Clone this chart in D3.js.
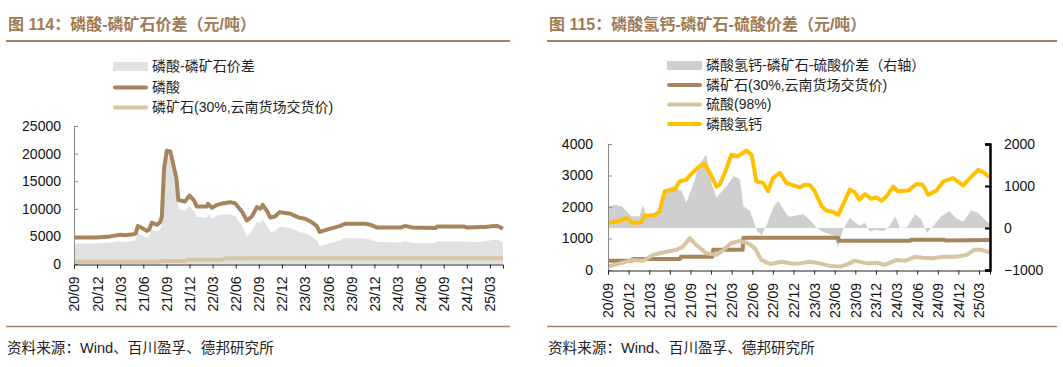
<!DOCTYPE html>
<html><head><meta charset="utf-8">
<script src="https://cdn.jsdelivr.net/npm/d3@7/dist/d3.min.js"></script>
<style>
body{margin:0;background:#fff;}
svg text{font-family:"Liberation Sans",Arial,"Noto Sans CJK SC",sans-serif;}
</style></head><body>
<svg id="c" width="1063" height="367"></svg>
<script>
// time values are months since 2020-09-01
const tickMonths = [0,3,6,9,12,15,18,21,24,27,30,33,36,39,42,45,48,51,54];
const tickLabels = ["20/09","20/12","21/03","21/06","21/09","21/12","22/03","22/06","22/09","22/12","23/03","23/06","23/09","23/12","24/03","24/06","24/09","24/12","25/03"];

// ---- Figure 114 ----
const acid = [[0,4800],[2.95,4800],[4.7,5000],[6.0,5300],[6.6,5200],[7.7,5400],[8.0,5500],[8.3,6900],[8.7,6600],[9.45,6000],[9.75,6200],[10.1,7500],[10.8,7100],[11.2,7600],[11.4,8600],[11.7,17400],[12.05,20500],[12.5,20400],[13.3,15500],[13.55,11600],[14.4,11300],[15.0,12400],[15.6,11500],[15.95,10400],[17.25,10400],[17.4,10900],[17.9,10200],[18.55,10700],[19.4,11000],[20.3,11200],[20.9,11000],[21.8,9500],[22.45,7900],[23.1,8600],[23.75,10300],[24.2,10000],[24.5,10700],[25.05,9600],[25.5,8400],[26.1,8600],[26.7,9400],[27.65,9200],[28.1,9100],[29.2,8400],[30.0,8200],[30.7,7700],[31.5,6900],[31.9,5800],[32.5,6100],[33.3,6400],[34.6,6900],[35.2,7300],[37.8,7300],[38.5,7100],[39.4,6600],[42.4,6600],[43.0,6900],[43.9,6600],[46.9,6500],[47.2,6800],[50.6,6800],[51.1,6600],[52.8,6700],[53.4,6700],[54.5,6900],[55.0,6900],[55.7,6400]];
const spreadAcid = [[0,3700],[2.95,3700],[4.7,3900],[6.0,4100],[6.6,4000],[7.7,4200],[8.0,4300],[8.3,5500],[8.7,5200],[9.45,4800],[9.75,5000],[10.1,6200],[10.8,5900],[11.2,6300],[11.4,7300],[11.7,16200],[12.05,19400],[12.5,19000],[13.3,14000],[13.55,10000],[14.4,9600],[15.0,10600],[15.6,9500],[15.95,8500],[17.25,8400],[17.4,9000],[17.9,8200],[18.55,8800],[19.4,9000],[20.3,9000],[20.9,8700],[21.8,7000],[22.45,5000],[23.1,6000],[23.75,7600],[24.2,7400],[24.5,8000],[25.05,7000],[25.5,5800],[26.1,6000],[26.7,6800],[27.65,6600],[28.1,6500],[29.2,5800],[30.0,5600],[30.7,5100],[31.5,4300],[31.9,3200],[32.5,3500],[33.3,3800],[34.6,4300],[35.2,4700],[37.8,4600],[38.5,4400],[39.4,4000],[42.4,3900],[43.0,4100],[43.9,3800],[46.9,3800],[47.2,4100],[50.6,4100],[51.1,4000],[52.8,4000],[53.4,4100],[54.5,4400],[55.0,4400],[55.7,3900]];
const rockL = [[0,420],[11.2,420],[11.3,550],[14.6,550],[14.7,750],[19.4,750],[19.5,1000],[24,1030],[55.7,1030]];

// ---- Figure 115 ----
const dcp = [[0,1490],[1.7,1560],[2.7,1650],[3.65,1490],[4.85,1520],[5.3,1720],[6.8,1750],[7.5,1860],[8.25,2500],[9.7,2550],[10.4,2810],[11.4,2870],[12.1,3050],[13.3,3290],[14.1,3370],[14.7,3130],[15.8,2650],[16.25,2710],[17,3080],[17.95,3660],[18.9,3610],[20.15,3790],[20.9,3660],[21.6,2810],[22.6,2760],[23.3,2500],[24,2920],[25,3080],[26,2760],[27.9,2620],[28.6,2710],[29.4,2690],[30.1,2500],[31.1,2020],[31.8,1880],[32.8,1840],[33.5,1750],[34.2,2070],[35.2,2550],[35.9,2470],[36.6,2230],[37.4,2410],[38.3,2260],[39.1,2300],[39.8,2200],[40.5,2330],[41.5,2650],[42.2,2500],[43.7,2520],[44.9,2730],[45.8,2710],[46.6,2390],[47.8,2520],[48.8,2810],[50.2,2920],[51.7,2690],[52.9,2970],[53.9,3180],[54.8,3080],[55.5,2940]];
const rockR = [[0,290],[3.5,290],[3.6,350],[10.5,350],[10.6,420],[15.2,420],[15.3,640],[19.6,640],[19.7,1020],[33.5,1020],[33.6,930],[44,930],[44.1,960],[49,960],[49.1,940],[55.5,950]];
const sulfuric = [[0,110],[1.7,210],[3.65,320],[5.1,290],[6.55,480],[8.5,580],[9.95,640],[10.9,740],[11.9,1010],[12.8,800],[14.3,530],[15.8,480],[16.8,640],[17.9,850],[19.2,920],[20.4,850],[21.4,690],[22.3,320],[23.6,190],[25.3,260],[27,200],[27.9,210],[29.4,260],[30.8,210],[32.3,130],[33.8,110],[34.8,180],[35.9,290],[37.8,210],[39.1,230],[40.3,160],[42,320],[43.2,290],[44.7,420],[45.8,390],[47.3,370],[48.8,420],[50.7,420],[52.2,480],[53.3,640],[54.3,640],[55.5,560]];
const spreadDcp = [[0,520],[1,550],[2,520],[2.7,400],[3.4,280],[4.6,280],[5.1,550],[5.5,320],[6.8,280],[7.7,400],[8.5,920],[9.5,1000],[10.7,880],[11.4,600],[12.4,1040],[13.3,1520],[14.3,1750],[15.1,1040],[15.8,720],[16.6,880],[17.3,1000],[18.3,1240],[19.2,1160],[19.7,520],[20.7,400],[21.7,-80],[22.4,-170],[23.1,70],[24.1,510],[24.8,640],[26,320],[26.4,270],[28.4,330],[29.4,190],[30.4,0],[31.4,-100],[32.8,-170],[33.5,-450],[34.2,-50],[35.2,250],[35.9,140],[36.6,60],[37.4,120],[38.1,-80],[39.1,-50],[40.1,-80],[41.1,70],[41.8,280],[42.5,0],[43.5,20],[44.7,330],[45.6,200],[46.4,-120],[47.3,40],[48.5,280],[49.7,400],[50.7,230],[51.7,150],[52.9,430],[53.9,350],[54.8,200],[55.5,110]];

const leftTicks = [0,5000,10000,15000,20000,25000];
const rightLTicks = [0,1000,2000,3000,4000];
const rightRTicks = [-1000,0,1000,2000];

const C = {title:"#a07a55", rule:"#a58361", brown:"#a8845d", tan:"#d8c59f", yellow:"#ffc000", grayL:"#e1e1e1", grayR:"#d0cfd0"};

const svg = d3.select("#c");

function frame(x0, x1, title){
  svg.append("text").attr("x",x0).attr("y",30).attr("font-size",16).attr("font-weight","bold")
    .attr("fill",C.title).text(title);
  svg.append("line").attr("x1",x0-2).attr("x2",x1).attr("y1",41).attr("y2",41).attr("stroke",C.rule).attr("stroke-width",2);
  svg.append("line").attr("x1",x0-2).attr("x2",x1).attr("y1",326.5).attr("y2",326.5).attr("stroke",C.rule).attr("stroke-width",1.5);
  svg.append("text").attr("x",x0-1).attr("y",353).attr("font-size",14.6).attr("fill","#222").text("资料来源：Wind、百川盈孚、德邦研究所");
}
frame(8, 510, "图 114：磷酸-磷矿石价差（元/吨）");
frame(549, 1057, "图 115：磷酸氢钙-磷矿石-硫酸价差（元/吨）");

function legend(x, ys, items){
  items.forEach((it,i)=>{
    const y = ys[i];
    if(it.type==="rect"){
      svg.append("rect").attr("x",x).attr("y",y-4.5).attr("width",35).attr("height",9).attr("fill",it.color);
    } else {
      svg.append("line").attr("x1",x+2).attr("x2",x+33).attr("y1",y).attr("y2",y).attr("stroke",it.color).attr("stroke-width",4).attr("stroke-linecap","round");
    }
    svg.append("text").attr("x",x+39).attr("y",y).attr("dy","0.35em").attr("font-size",14).attr("fill","#222").text(it.label);
  });
}
legend(113,[66.5,87.5,107.5],[
  {type:"rect",color:C.grayL,label:"磷酸-磷矿石价差"},
  {type:"line",color:C.brown,label:"磷酸"},
  {type:"line",color:C.tan,label:"磷矿石(30%,云南货场交货价)"}]);
legend(667,[65.5,85,104.5,124],[
  {type:"rect",color:C.grayR,label:"磷酸氢钙-磷矿石-硫酸价差（右轴）"},
  {type:"line",color:C.brown,label:"磷矿石(30%,云南货场交货价)"},
  {type:"line",color:C.tan,label:"硫酸(98%)"},
  {type:"line",color:C.yellow,label:"磷酸氢钙"}]);

function styleAxis(g, color, width){
  g.select(".domain").attr("stroke",color).attr("stroke-width",width);
  g.selectAll(".tick line").attr("stroke",color);
  g.selectAll(".tick text").attr("font-size",14).attr("fill","#111")
   .attr("font-family","'Liberation Sans',Arial,sans-serif");
}
function xAxis(g, scale, y, labelOff){
  const a = g.append("g").attr("transform",`translate(0,${y})`)
    .call(d3.axisBottom(scale).tickValues(tickMonths).tickFormat((d,i)=>tickLabels[i]).tickSizeOuter(0).tickSize(4));
  styleAxis(a,"#222",1);
  a.selectAll(".tick text").attr("transform","rotate(-90)").attr("text-anchor","end")
    .attr("x",-labelOff).attr("y",0).attr("dy","0.35em");
  return a;
}

// ---- Left chart ----
{
  const xL = d3.scaleLinear().domain([0,55.7]).range([74,503]);
  const yL = d3.scaleLinear().domain([0,25000]).range([264,126]);
  const g = svg.append("g");
  g.append("path").datum(spreadAcid).attr("fill",C.grayL)
    .attr("d",d3.area().x(d=>xL(d[0])).y0(yL(0)).y1(d=>yL(d[1])));
  const line = d3.line().x(d=>xL(d[0])).y(d=>yL(d[1]));
  g.append("path").datum(acid).attr("fill","none").attr("stroke",C.brown).attr("stroke-width",4).attr("stroke-linejoin","round").attr("d",line);
  g.append("path").datum(rockL).attr("fill","none").attr("stroke",C.tan).attr("stroke-width",4).attr("stroke-linejoin","round").attr("d",line);
  const ya = g.append("g").attr("transform","translate(74,0)")
    .call(d3.axisLeft(yL).tickValues(leftTicks).tickFormat(d3.format("d")).tickSizeOuter(0).tickSize(-4).tickPadding(13));
  styleAxis(ya,"#888",1);
  xAxis(g, xL, 264.5, 12);
}

// ---- Right chart ----
{
  const xR = d3.scaleLinear().domain([0,55.6]).range([608,990]);
  const yA = d3.scaleLinear().domain([0,4000]).range([270,144]);
  const yB = d3.scaleLinear().domain([-1000,2000]).range([270,144]);
  const g = svg.append("g");
  g.append("path").datum(spreadDcp).attr("fill",C.grayR)
    .attr("d",d3.area().x(d=>xR(d[0])).y0(yB(0)).y1(d=>yB(d[1])));
  const line = d3.line().x(d=>xR(d[0])).y(d=>yA(d[1]));
  [[rockR,C.brown],[sulfuric,C.tan],[dcp,C.yellow]].forEach(([data,col])=>{
    g.append("path").datum(data).attr("fill","none").attr("stroke",col).attr("stroke-width",4).attr("stroke-linejoin","round").attr("d",line);
  });
  const ya = g.append("g").attr("transform","translate(608,0)")
    .call(d3.axisLeft(yA).tickValues(rightLTicks).tickFormat(d3.format("d")).tickSizeOuter(0).tickSize(-4).tickPadding(15));
  styleAxis(ya,"#888",1);
  xAxis(g, xR, 270.5, 12.5);
  const yb = g.append("g").attr("transform","translate(990,0)")
    .call(d3.axisRight(yB).tickValues(rightRTicks).tickFormat(d3.format("d")).tickSizeOuter(0).tickSize(-5).tickPadding(14));
  styleAxis(yb,"#000",2.5);
  yb.selectAll(".tick line").attr("stroke-width",2);
}
</script>
</body></html>
